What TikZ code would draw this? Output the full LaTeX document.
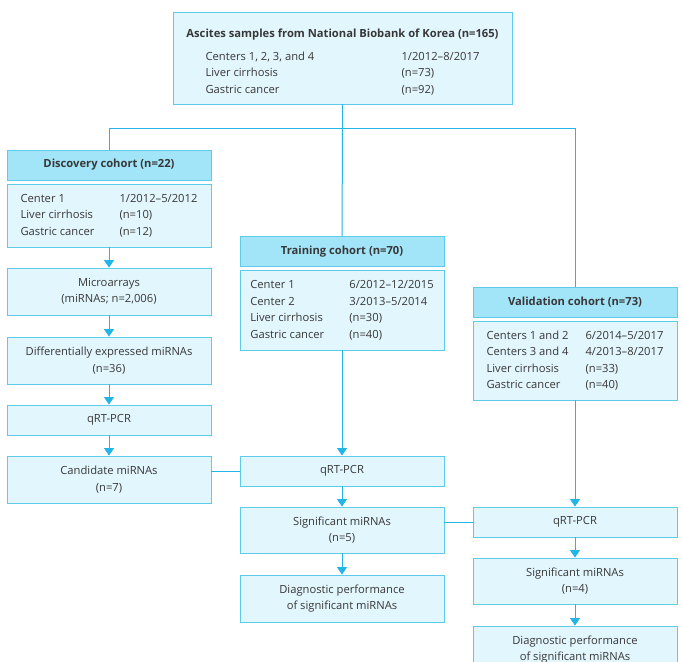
\documentclass[tikz,border=0pt]{standalone}
\usepackage{fontspec}
\setmainfont{Open Sans}
\usetikzlibrary{arrows.meta}

\definecolor{boxline}{HTML}{5ECBEB}
\definecolor{boxfill}{HTML}{E2F6FD}
\definecolor{headfill}{HTML}{A2E4F8}
\definecolor{flow}{HTML}{22B5E6}
\definecolor{txt}{HTML}{383838}

\tikzset{
    box/.style={draw=boxline, fill=boxfill, line width=0.9pt, minimum width=204pt,
        align=center, inner sep=0pt, text=txt,
        font=\fontsize{11.2}{16.5}\selectfont},
    headbox/.style={box, fill=headfill, minimum height=30pt, font=\fontsize{11.2}{14}\selectfont\bfseries},
    link/.style={draw=flow, line width=1pt},
    flowto/.style={link, -{Triangle[width=10pt,length=7.5pt]}}
}
\newcommand{\cohorttab}[1]{\begin{tabular}{@{}p{99pt}@{}l@{}}#1\end{tabular}}

\begin{document}
\begin{tikzpicture}[x=1pt,y=-1pt]
    \useasboundingbox[fill=white] (0,0) rectangle (685,661);

    % source
    \node[box, minimum width=339pt, minimum height=92pt] (ascites) at (342.5,58)
        {\rule{0pt}{20pt}\textbf{Ascites samples from National Biobank of Korea (n=165)}\\[7pt]
         \begin{tabular}{@{}p{196pt}@{}l@{}}
         Centers 1, 2, 3, and 4 & 1/2012--8/2017\\
         Liver cirrhosis & (n=73)\\
         Gastric cancer & (n=92)
         \end{tabular}};

    % discovery cohort
    \node[headbox] (disc) at (109,165) {Discovery cohort (n=22)};
    \node[box, minimum height=63pt] (discbody) at (109,215.5)
        {\cohorttab{Center 1 & 1/2012--5/2012\\ Liver cirrhosis & (n=10)\\ Gastric cancer & (n=12)}};
    \node[box, minimum height=47pt] (micro) at (109,291.5) {Microarrays\\(miRNAs; n=2,006)};
    \node[box, minimum height=47pt] (diffexp) at (109,360.5) {Differentially expressed miRNAs\\(n=36)};
    \node[box, minimum height=30pt] (qrtdisc) at (109,420) {qRT-PCR};
    \node[box, minimum height=47pt] (cand) at (109,479.5) {Candidate miRNAs\\(n=7)};

    % training cohort
    \node[headbox] (train) at (342,251.5) {Training cohort (n=70)};
    \node[box, minimum height=80pt] (trainbody) at (342,310)
        {\cohorttab{Center 1 & 6/2012--12/2015\\ Center 2 & 3/2013--5/2014\\ Liver cirrhosis & (n=30)\\ Gastric cancer & (n=40)}};
    \node[box, minimum height=30pt] (qrttrain) at (342,471) {qRT-PCR};
    \node[box, minimum height=46pt] (sigtrain) at (342,530) {Significant miRNAs\\(n=5)};
    \node[box, minimum height=47pt] (diagtrain) at (342,598.5) {Diagnostic performance\\of significant miRNAs};

    % validation cohort
    \node[headbox] (valid) at (575,302) {Validation cohort (n=73)};
    \node[box, minimum height=79pt] (validbody) at (575,360.5)
        {\cohorttab{Centers 1 and 2 & 6/2014--5/2017\\ Centers 3 and 4 & 4/2013--8/2017\\ Liver cirrhosis & (n=33)\\ Gastric cancer & (n=40)}};
    \node[box, minimum height=30pt] (qrtvalid) at (575,522) {qRT-PCR};
    \node[box, minimum height=46pt] (sigvalid) at (575,581) {Significant miRNAs\\(n=4)};
    \node[box, minimum height=47pt] (diagvalid) at (575,649.5) {Diagnostic performance\\of significant miRNAs};

    % split into cohorts
    \draw[link] (ascites.south) -- ++(0,24) coordinate (split);
    \draw[link] (disc.north) |- (split) -| (valid.north);
    \draw[link] (split) -- (train.north);

    % flow
    \draw[flowto] (discbody.south) -- (micro.north);
    \draw[flowto] (micro.south) -- (diffexp.north);
    \draw[flowto] (diffexp.south) -- (qrtdisc.north);
    \draw[flowto] (qrtdisc.south) -- (cand.north);
    \draw[flowto] (trainbody.south) -- (qrttrain.north);
    \draw[flowto] (qrttrain.south) -- (sigtrain.north);
    \draw[flowto] (sigtrain.south) -- (diagtrain.north);
    \draw[flowto] (validbody.south) -- (qrtvalid.north);
    \draw[flowto] (qrtvalid.south) -- (sigvalid.north);
    \draw[flowto] (sigvalid.south) -- (diagvalid.north);

    % links between cohorts
    \draw[link] (cand.east |- qrttrain.west) -- (qrttrain.west);
    \draw[link] (sigtrain.east |- qrtvalid.west) -- (qrtvalid.west);
\end{tikzpicture}
\end{document}
